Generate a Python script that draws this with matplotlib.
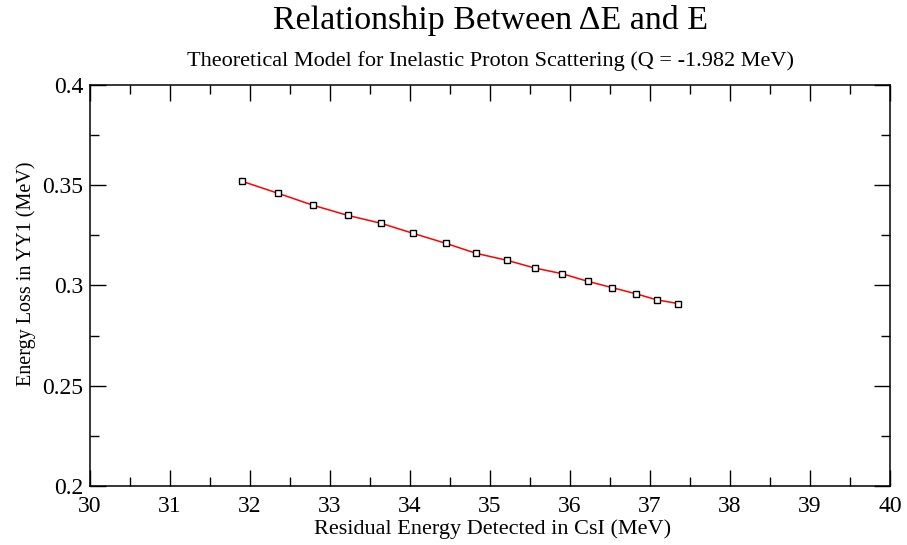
import matplotlib.pyplot as plt
from matplotlib.ticker import MultipleLocator

plt.rcParams["font.family"] = ["Liberation Serif", "DejaVu Serif"]

# residual energy in CsI (MeV) and energy loss in YY1 (MeV)
residual_e = [31.90, 32.35, 32.79, 33.22, 33.64, 34.04, 34.45, 34.83,
              35.21, 35.56, 35.90, 36.22, 36.53, 36.83, 37.09, 37.35]
energy_loss = [0.352, 0.346, 0.340, 0.335, 0.331, 0.326, 0.321, 0.316,
               0.3126, 0.3087, 0.3059, 0.3021, 0.2989, 0.2958, 0.2928, 0.2910]

fig = plt.figure(figsize=(9.07, 5.45), dpi=100)
ax = fig.add_axes([0.0992, 0.1083, 0.8821, 0.7357])

ax.plot(residual_e, energy_loss, color="red", linewidth=1.1, zorder=2)
ax.plot(residual_e, energy_loss, linestyle="none", marker="s", markersize=4.4,
        markerfacecolor="white", markeredgecolor="black", markeredgewidth=1.0, zorder=3)

ax.set_xlim(30, 40)
ax.set_ylim(0.2, 0.4)
ax.xaxis.set_minor_locator(MultipleLocator(0.5))
ax.yaxis.set_minor_locator(MultipleLocator(0.025))
ax.set_xticks(range(30, 41))
ax.set_xticklabels([str(v) for v in range(30, 41)])
ax.set_yticks([0.2, 0.25, 0.3, 0.35, 0.4])
ax.set_yticklabels(["0.2", "0.25", "0.3", "0.35", "0.4"])

ax.tick_params(which="both", direction="in", top=True, right=True, width=1.0, labelsize=17)
ax.tick_params(which="major", length=11.5)
ax.tick_params(which="minor", length=6.3)
ax.tick_params(axis="x", pad=7)
ax.tick_params(axis="y", pad=5)
for s in ax.spines.values():
    s.set_linewidth(1.1)

ax.set_xlabel("Residual Energy Detected in CsI (MeV)", fontsize=16)
ax.xaxis.set_label_coords(0.503, -0.082)
ax.set_ylabel("Energy Loss in YY1 (MeV)", fontsize=14.5)
ax.yaxis.set_label_coords(-0.068, 0.53)

fig.text(0.541, 0.963, "Relationship Between \u0394E and E", ha="center", va="center", fontsize=24.5)
fig.text(0.541, 0.888, "Theoretical Model for Inelastic Proton Scattering (Q = -1.982 MeV)",
         ha="center", va="center", fontsize=16)

fig.savefig("out.png", dpi=100, facecolor="white")
